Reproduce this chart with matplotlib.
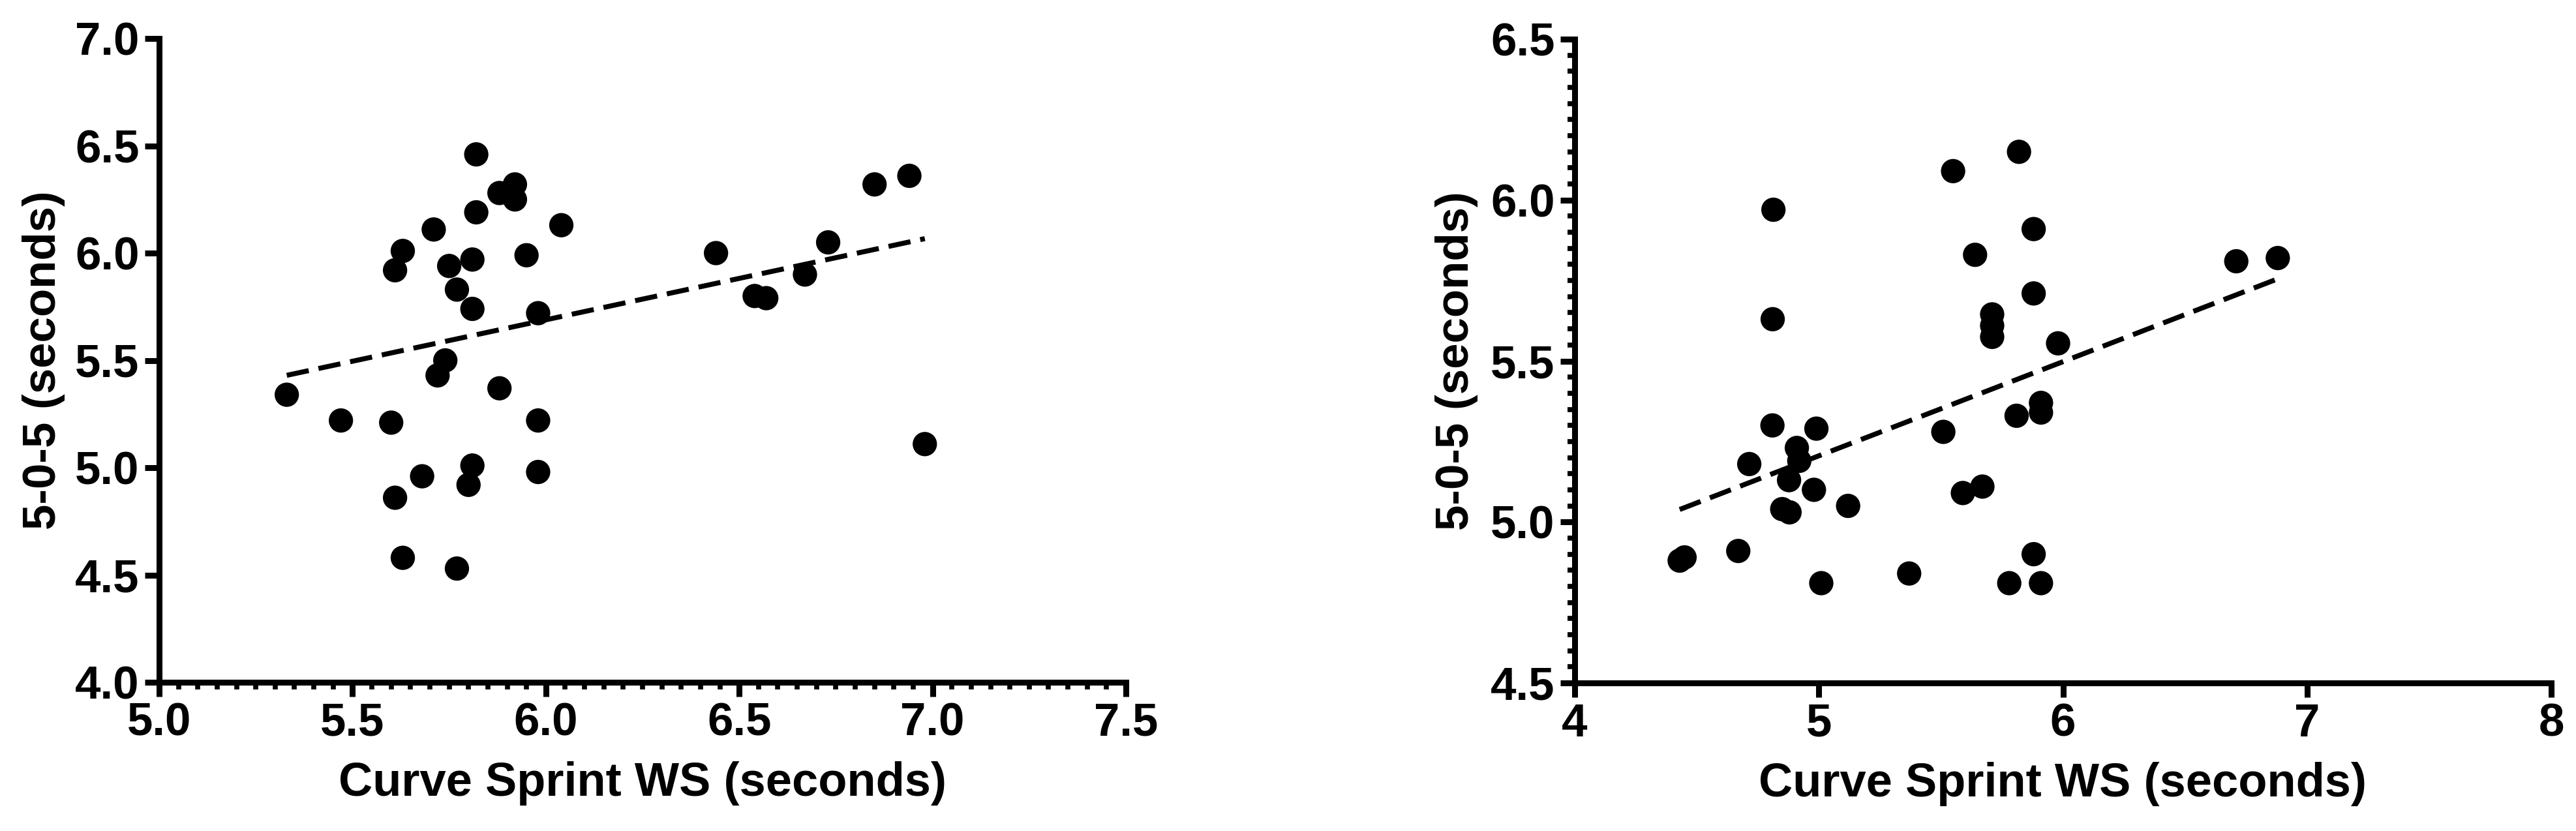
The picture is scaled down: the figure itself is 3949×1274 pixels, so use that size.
import matplotlib
matplotlib.use("Agg")
import matplotlib.pyplot as plt
import numpy as np
from matplotlib.ticker import MultipleLocator

plt.rcParams['font.family'] = ['Liberation Sans', 'DejaVu Sans']
plt.rcParams['font.weight'] = 'bold'

# ---- Left panel data ----
left_x = [5.33, 5.47, 5.60, 5.61, 5.63, 5.61, 5.63, 5.68, 5.71, 5.75,
          5.77, 5.72, 5.74, 5.77, 5.82, 5.82, 5.81, 5.81, 5.81, 5.80,
          5.88, 5.92, 5.92, 5.88, 5.95, 5.98, 5.98, 5.98, 6.04, 6.44,
          6.54, 6.57, 6.67, 6.73, 6.85, 6.94, 6.98]
left_y = [5.34, 5.22, 5.21, 5.92, 6.01, 4.86, 4.58, 4.96, 6.11, 5.94,
          5.83, 5.43, 5.50, 4.53, 6.46, 6.19, 5.97, 5.74, 5.01, 4.92,
          6.28, 6.32, 6.25, 5.37, 5.99, 5.72, 5.22, 4.98, 6.13, 6.00,
          5.80, 5.79, 5.90, 6.05, 6.32, 6.36, 5.11]
left_fit = [0.386, 3.373]  # slope, intercept
left_xticks = [5.0, 5.5, 6.0, 6.5, 7.0, 7.5]
left_yticks = [4.0, 4.5, 5.0, 5.5, 6.0, 6.5, 7.0]

# ---- Right panel data ----
right_x = [4.43, 4.45, 4.67, 4.715, 4.81, 4.814, 4.811, 4.91, 4.92, 4.878,
           4.85, 4.88, 4.99, 4.98, 5.12, 5.01, 5.37, 5.51, 5.55, 5.59,
           5.67, 5.64, 5.71, 5.71, 5.71, 5.82, 5.88, 5.88, 5.98, 5.81,
           5.91, 5.91, 5.88, 5.78, 5.91, 6.71, 6.88]
right_y = [4.88, 4.89, 4.91, 5.18, 5.30, 5.97, 5.63, 5.23, 5.19, 5.13,
           5.04, 5.03, 5.29, 5.10, 5.05, 4.81, 4.84, 5.28, 6.09, 5.09,
           5.11, 5.83, 5.645, 5.61, 5.575, 6.15, 5.91, 5.71, 5.555, 5.33,
           5.37, 5.34, 4.90, 4.81, 4.81, 5.81, 5.82]
right_fit = [0.2925, 3.743]
right_xticks = [4, 5, 6, 7, 8]
right_yticks = [4.5, 5.0, 5.5, 6.0, 6.5]

xlabel = "Curve Sprint WS (seconds)"
ylabel = "5-0-5 (seconds)"

W, H = 3949, 1274
fig = plt.figure(figsize=(W / 100, H / 100), dpi=100)

LW = 6.5
FS_TICK = 51
FS_XLAB = 52
FS_YLAB = 51


def style(ax, xlim, ylim, xticks, yticks, xfmt, yfmt, xminor=None, yminor=None):
    ax.set_xlim(*xlim)
    ax.set_ylim(*ylim)
    for s in ['top', 'right']:
        ax.spines[s].set_visible(False)
    for s in ['left', 'bottom']:
        ax.spines[s].set_linewidth(LW)
        ax.spines[s].set_capstyle('projecting')
    ax.set_xticks(xticks)
    ax.set_yticks(yticks)
    ax.set_xticklabels([xfmt.format(v) for v in xticks])
    ax.set_yticklabels([yfmt.format(v) for v in yticks])
    ax.tick_params(which='major', direction='out', length=16, width=LW,
                   labelsize=FS_TICK, pad=6)
    if xminor is not None:
        ax.xaxis.set_minor_locator(MultipleLocator(xminor))
    if yminor is not None:
        ax.yaxis.set_minor_locator(MultipleLocator(yminor))
    ax.tick_params(which='minor', direction='out', length=8, width=5.5)
    for lab in ax.get_xticklabels() + ax.get_yticklabels():
        lab.set_fontweight('bold')
    ax.set_xlabel(xlabel, fontsize=FS_XLAB, fontweight='bold')
    ax.set_ylabel(ylabel, fontsize=FS_YLAB, fontweight='bold')


def draw(ax, xs, ys, fit):
    ax.scatter(xs, ys, s=720, color='black', edgecolors='none', zorder=3,
               clip_on=False)
    xs_arr = np.array([min(xs), max(xs)])
    ax.plot(xs_arr, fit[0] * xs_arr + fit[1], color='black', lw=5.5,
            dashes=(4.5, 2.0), dash_capstyle='butt', zorder=2)


ax1 = fig.add_axes([244 / W, 1 - 1046 / H, (1726 - 244) / W, (1046 - 59) / H])
draw(ax1, left_x, left_y, left_fit)
style(ax1, (5.0, 7.5), (4.0, 7.0), left_xticks, left_yticks, "{:.1f}", "{:.1f}",
      xminor=0.05)
ax1.yaxis.set_label_coords(-0.097, 0.5)
ax1.xaxis.set_label_coords(0.5, -0.123)

ax2 = fig.add_axes([2414 / W, 1 - 1047 / H, (3911 - 2414) / W, (1047 - 60) / H])
draw(ax2, right_x, right_y, right_fit)
style(ax2, (4, 8), (4.5, 6.5), right_xticks, right_yticks, "{:d}", "{:.1f}",
      yminor=0.05)
ax2.yaxis.set_label_coords(-0.099, 0.5)
ax2.xaxis.set_label_coords(0.5, -0.123)

fig.savefig("out.png", dpi=100, facecolor='white')
